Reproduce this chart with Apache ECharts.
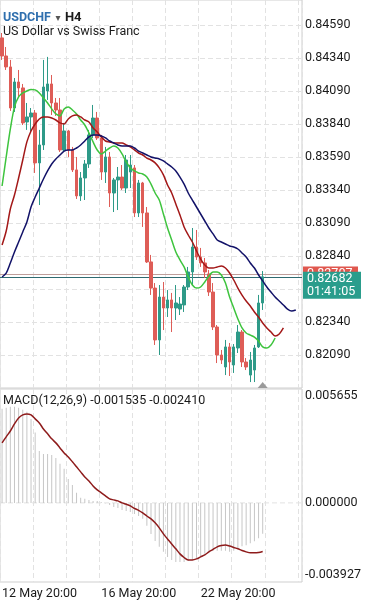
<!DOCTYPE html>
<html><head><meta charset="utf-8">
<script src="https://cdn.jsdelivr.net/npm/echarts@6/dist/echarts.min.js"></script>
<style>html,body{margin:0;padding:0;background:#fff;}#c{width:369px;height:600px;}</style>
</head><body><div id="c"></div>
<script>
const categories = [
'12 May 20:00',
'13 May 00:00','13 May 04:00','13 May 08:00','13 May 12:00','13 May 16:00','13 May 20:00',
'14 May 00:00','14 May 04:00','14 May 08:00','14 May 12:00','14 May 16:00','14 May 20:00',
'15 May 00:00','15 May 04:00','15 May 08:00','15 May 12:00','15 May 16:00','15 May 20:00',
'16 May 00:00','16 May 04:00','16 May 08:00','16 May 12:00','16 May 16:00','16 May 20:00',
'19 May 00:00','19 May 04:00','19 May 08:00','19 May 12:00','19 May 16:00','19 May 20:00',
'20 May 00:00','20 May 04:00','20 May 08:00','20 May 12:00','20 May 16:00','20 May 20:00',
'21 May 00:00','21 May 04:00','21 May 08:00','21 May 12:00','21 May 16:00','21 May 20:00',
'22 May 00:00','22 May 04:00','22 May 08:00','22 May 12:00','22 May 16:00','22 May 20:00',
'23 May 00:00','23 May 04:00','23 May 08:00','23 May 12:00','23 May 16:00','23 May 20:00',
'26 May 00:00','26 May 04:00','26 May 08:00','26 May 12:00','26 May 16:00','26 May 20:00',
'27 May 00:00','27 May 04:00','27 May 08:00','27 May 12:00','27 May 16:00','27 May 20:00',
'28 May 00:00','28 May 04:00','28 May 08:00','28 May 12:00','28 May 16:00','28 May 20:00'
];
const xLabelIndices = [0, 24, 48];
const open = [0.84492,0.84355,0.84272,0.83961,0.84158,0.84113,0.83855,0.83893,0.83923,0.83545,
0.83681,0.84090,0.84143,0.83999,0.83946,0.83643,0.83787,0.83643,0.83492,0.83295,
0.83431,0.83537,0.83757,0.83885,0.83734,0.83476,0.83590,0.83317,0.83416,0.83438,
0.83355,0.83476,0.83507,0.83166,0.83393,0.83166,0.82795,0.82597,0.82204,0.82529,
0.82446,0.82507,0.82446,0.82438,0.82469,0.82605,0.82719,0.82908,0.82832,0.82787,
0.82704,0.82567,0.82302,0.82090,0.81999,0.82151,0.82014,0.82143,0.82264,0.82037,
0.81938,0.81976,0.82151,0.82484];
const close = [0.84355,0.84272,0.83961,0.84158,0.84113,0.83848,0.83893,0.83923,0.83545,0.83681,
0.84120,0.84143,0.83999,0.83946,0.83643,0.83787,0.83643,0.83492,0.83295,0.83431,
0.83537,0.83757,0.83885,0.83734,0.83476,0.83590,0.83317,0.83416,0.83438,0.83355,
0.83567,0.83529,0.83166,0.83393,0.83166,0.82795,0.82597,0.82204,0.82529,0.82446,
0.82507,0.82446,0.82484,0.82476,0.82605,0.82719,0.82908,0.82832,0.82787,0.82719,
0.82567,0.82302,0.82090,0.82052,0.82151,0.82037,0.82151,0.82264,0.82037,0.81999,
0.82052,0.82143,0.82484,0.82682];
const low = [0.84325,0.84249,0.83939,0.83931,0.84045,0.83832,0.83795,0.83772,0.83469,0.83226,
0.83643,0.84022,0.83908,0.83901,0.83628,0.83628,0.83590,0.83476,0.83272,0.83257,
0.83264,0.83507,0.83734,0.83719,0.83416,0.83393,0.83211,0.83173,0.83188,0.83340,
0.83317,0.83355,0.83135,0.83135,0.83060,0.82787,0.82545,0.82166,0.82090,0.82279,
0.82378,0.82264,0.82355,0.82393,0.82416,0.82582,0.82620,0.82810,0.82757,0.82673,
0.82537,0.82279,0.82029,0.82022,0.81938,0.81931,0.81954,0.82105,0.81999,0.81976,
0.81885,0.81885,0.82143,0.82431];
const high = [0.84529,0.84423,0.84325,0.84188,0.84249,0.84143,0.83999,0.83961,0.83946,0.83795,
0.84325,0.84348,0.84211,0.84037,0.84037,0.83848,0.83795,0.83666,0.83590,0.83476,
0.83567,0.83795,0.83984,0.83931,0.83757,0.83666,0.83628,0.83431,0.83514,0.83529,
0.83605,0.83605,0.83529,0.83416,0.83401,0.83211,0.82848,0.82635,0.82620,0.82643,
0.82582,0.82560,0.82620,0.82529,0.82620,0.82757,0.83052,0.83037,0.82901,0.82825,
0.82734,0.82635,0.82317,0.82128,0.82204,0.82181,0.82173,0.82317,0.82279,0.82067,
0.82113,0.82166,0.82545,0.82726];
const lips = [0.83370,0.83590,0.83802,0.83969,0.84045,0.84075,0.84090,0.84101,0.84098,0.84075,
0.84037,0.83999,0.83954,0.83916,0.83901,0.83954,0.83969,0.83946,0.83916,0.83870,
0.83832,0.83772,0.83704,0.83643,0.83613,0.83635,0.83658,0.83673,0.83658,0.83613,
0.83552,0.83507,0.83484,0.83469,0.83461,0.83438,0.83385,0.83317,0.83264,0.83158,
0.83052,0.82961,0.82870,0.82810,0.82757,0.82681,0.82620,0.82597,0.82605,0.82643,
0.82688,0.82719,0.82719,0.82696,0.82635,0.82529,0.82446,0.82363,0.82295,0.82257,
0.82241,0.82226,0.82196,0.82151,0.82143,0.82166,0.82219];
const teeth = [0.82923,0.83029,0.83196,0.83302,0.83431,0.83567,0.83704,0.83787,0.83840,0.83878,
0.83893,0.83893,0.83885,0.83870,0.83848,0.83840,0.83878,0.83901,0.83908,0.83893,
0.83870,0.83855,0.83810,0.83779,0.83742,0.83711,0.83704,0.83696,0.83696,0.83696,
0.83681,0.83666,0.83643,0.83620,0.83605,0.83582,0.83567,0.83545,0.83507,0.83454,
0.83378,0.83317,0.83234,0.83151,0.83060,0.82999,0.82946,0.82878,0.82817,0.82772,
0.82749,0.82749,0.82757,0.82764,0.82749,0.82711,0.82658,0.82597,0.82544,0.82499,
0.82461,0.82416,0.82378,0.82332,0.82295,0.82264,0.82234,0.82249,0.82295];
const jaw = [0.82681,0.82711,0.82787,0.82870,0.82946,0.83022,0.83098,0.83211,0.83287,0.83355,
0.83423,0.83484,0.83537,0.83575,0.83605,0.83635,0.83643,0.83643,0.83658,0.83681,
0.83711,0.83742,0.83757,0.83757,0.83749,0.83734,0.83711,0.83696,0.83681,0.83673,
0.83673,0.83673,0.83658,0.83635,0.83620,0.83605,0.83590,0.83582,0.83575,0.83560,
0.83537,0.83514,0.83484,0.83438,0.83385,0.83317,0.83264,0.83211,0.83158,0.83105,
0.83052,0.83007,0.82961,0.82946,0.82931,0.82916,0.82908,0.82893,0.82863,0.82832,
0.82787,0.82749,0.82696,0.82651,0.82605,0.82567,0.82529,0.82499,0.82469,0.82438,
0.82423,0.82431];
const macdMain = [0.00467,0.00472,0.00477,0.00477,0.00472,0.00462,0.00452,0.00417,0.00350,0.00258,
0.00243,0.00243,0.00238,0.00223,0.00194,0.00169,0.00119,0.00089,0.00050,0.00025,
0.00020,0.00015,0.00010,0.00010,0.00003,-0.00002,-0.00010,-0.00020,-0.00025,-0.00035,
-0.00040,-0.00045,-0.00055,-0.00065,-0.00079,-0.00114,-0.00154,-0.00189,-0.00218,-0.00243,
-0.00268,-0.00283,-0.00293,-0.00293,-0.00293,-0.00288,-0.00283,-0.00273,-0.00263,-0.00253,
-0.00243,-0.00238,-0.00238,-0.00238,-0.00238,-0.00243,-0.00238,-0.00225,-0.00215,-0.00210,
-0.00200,-0.00190,-0.00175,-0.001535];
const macdSignal = [0.00298,0.00328,0.00357,0.00392,0.00422,0.00437,0.00442,0.00437,0.00417,0.00397,
0.00367,0.00343,0.00318,0.00298,0.00273,0.00248,0.00228,0.00204,0.00179,0.00154,
0.00129,0.00109,0.00084,0.00065,0.00050,0.00035,0.00020,0.00015,0.00010,0.00000,
-0.00007,-0.00015,-0.00027,-0.00037,-0.00050,-0.00065,-0.00079,-0.00099,-0.00124,-0.00154,
-0.00179,-0.00204,-0.00228,-0.00253,-0.00271,-0.00283,-0.00283,-0.00278,-0.00268,-0.00258,
-0.00243,-0.00231,-0.00218,-0.00211,-0.00209,-0.00214,-0.00221,-0.00228,-0.00236,-0.00243,
-0.00248,-0.00248,-0.00246,-0.00241];
const priceMin = 0.81840, priceMax = 0.84779, priceStep = 0.0025;
const macdMin = -0.003927, macdMax = 0.005655;
const bidPrice = 0.82682, askPrice = 0.82707, barTimer = '01:41:05';
const symbolName = 'USDCHF', timeframe = 'H4', symbolDesc = 'US Dollar vs Swiss Franc';
const macdTitle = 'MACD(12,26,9) -0.001535 -0.002410';

const FONT = 'Roboto, "DejaVu Sans", sans-serif';
const TXT = '#1a1a1a';
const GRIDC = '#e2e2e2';
const UP = '#2e9a88', DOWN = '#de5d57';
const candles = open.map((o, i) => [o, close[i], low[i], high[i]]);
const vGrid = (i) => i % 8 === 0;

const chart = echarts.init(document.getElementById('c'), null, {renderer: 'canvas', width: 369, height: 600});
const option = {
  animation: false,
  backgroundColor: '#ffffff',
  textStyle: {fontFamily: FONT},
  title: [{
    left: 3, top: 9, padding: 0,
    text: '{a|' + symbolName + '} {b|▾} {c|' + timeframe + '}',
    textStyle: {rich: {
      a: {fontSize: 12.5, fontWeight: 'bold', color: '#2f6fae', fontFamily: FONT},
      b: {fontSize: 10, color: '#555', fontFamily: FONT},
      c: {fontSize: 13, color: TXT, fontFamily: FONT}
    }}
  }, {
    left: 3, top: 25, padding: 0, text: symbolDesc,
    textStyle: {fontSize: 12.5, fontWeight: 'normal', color: TXT, fontFamily: FONT}
  }, {
    left: 3, top: 394, padding: 0, text: macdTitle,
    textStyle: {fontSize: 12.5, fontWeight: 'normal', color: TXT, fontFamily: FONT}
  }],
  grid: [
    {left: 0, top: 0, width: 302, height: 388, show: true, borderColor: '#cfcfcf', borderWidth: 1, outerBoundsMode: 'none'},
    {left: 0, top: 389, width: 302, height: 193, show: true, borderColor: '#cfcfcf', borderWidth: 1, outerBoundsMode: 'none'}
  ],
  xAxis: [{
    gridIndex: 0, type: 'category', data: categories, boundaryGap: true,
    axisLine: {show: false, onZero: false}, axisTick: {show: false}, axisLabel: {show: false},
    splitLine: {show: true, interval: vGrid, lineStyle: {color: GRIDC, type: [5, 3], width: 1}}
  }, {
    gridIndex: 1, type: 'category', data: categories, boundaryGap: true,
    axisLine: {show: false, onZero: false}, axisTick: {show: false},
    axisLabel: {show: true, interval: (i) => xLabelIndices.indexOf(i) >= 0, align: 'left', margin: 5, fontSize: 12.5, color: TXT, fontFamily: FONT},
    splitLine: {show: true, interval: vGrid, lineStyle: {color: GRIDC, type: [5, 3], width: 1}}
  }],
  yAxis: [{
    gridIndex: 0, type: 'value', position: 'right', min: priceMin, max: priceMax, interval: priceStep,
    axisLine: {show: false}, axisTick: {show: false},
    axisLabel: {showMinLabel: false, showMaxLabel: false, margin: 3, fontSize: 12.5, color: TXT, fontFamily: FONT,
      formatter: (v) => v.toFixed(5)},
    splitLine: {show: true, showMinLine: false, showMaxLine: false, lineStyle: {color: GRIDC, type: [5, 3], width: 1}}
  }, {
    gridIndex: 1, type: 'value', position: 'right', min: macdMin, max: macdMax, interval: -macdMin,
    axisLine: {show: false}, axisTick: {show: false}, splitLine: {show: false},
    axisLabel: {showMinLabel: true, showMaxLabel: true, margin: 3, fontSize: 12.5, color: TXT, fontFamily: FONT,
      formatter: (v) => {
        if (Math.abs(v - macdMax) < 1e-9) return '{t|' + macdMax.toFixed(6) + '}';
        if (Math.abs(v - macdMin) < 1e-9) return '{b|' + macdMin.toFixed(6) + '}';
        if (Math.abs(v) < 1e-9) return '0.000000';
        return '';
      },
      rich: {
        t: {padding: [14, 0, 0, 0], fontSize: 12.5, color: TXT, fontFamily: FONT},
        b: {padding: [0, 0, 14, 0], fontSize: 12.5, color: TXT, fontFamily: FONT}
      }
    }
  }],
  series: [{
    type: 'candlestick', xAxisIndex: 0, yAxisIndex: 0, data: candles, barWidth: 3,
    itemStyle: {color: UP, color0: DOWN, borderColor: UP, borderColor0: DOWN, borderWidth: 1}
  }, {
    type: 'line', xAxisIndex: 0, yAxisIndex: 0, data: lips, showSymbol: false, smooth: 0.3,
    lineStyle: {color: '#3ec43e', width: 1.5}, z: 5
  }, {
    type: 'line', xAxisIndex: 0, yAxisIndex: 0, data: teeth, showSymbol: false, smooth: 0.3,
    lineStyle: {color: '#a31818', width: 1.5}, z: 5
  }, {
    type: 'line', xAxisIndex: 0, yAxisIndex: 0, data: jaw, showSymbol: false, smooth: 0.3,
    lineStyle: {color: '#121268', width: 1.5}, z: 5
  }, {
    type: 'bar', xAxisIndex: 1, yAxisIndex: 1, data: macdMain, barWidth: 1,
    itemStyle: {color: '#c6c6c6'}
  }, {
    type: 'line', xAxisIndex: 1, yAxisIndex: 1, data: macdSignal, showSymbol: false, smooth: 0.3,
    lineStyle: {color: '#8e1b1b', width: 1.5}, z: 5
  }]
};
chart.setOption(option);

const xLast = chart.convertToPixel({xAxisIndex: 0}, open.length - 1);
const yBid = chart.convertToPixel({yAxisIndex: 0}, bidPrice);
const yAsk = chart.convertToPixel({yAxisIndex: 0}, askPrice);
const yZero = chart.convertToPixel({yAxisIndex: 1}, 0);
const gridBottom = 388, plotLeft = 0, plotRight = 302;
chart.setOption({graphic: [
  {type: 'line', z: 1, shape: {x1: plotLeft, y1: yZero, x2: plotRight, y2: yZero}, style: {stroke: GRIDC, lineWidth: 1, lineDash: [5, 3]}},
  {type: 'line', z: 2, shape: {x1: plotLeft, y1: Math.round(yAsk) + 0.5, x2: plotRight, y2: Math.round(yAsk) + 0.5}, style: {stroke: '#bf9f9b', lineWidth: 1}},
  {type: 'line', z: 2, shape: {x1: plotLeft, y1: Math.round(yBid) + 0.5, x2: plotRight, y2: Math.round(yBid) + 0.5}, style: {stroke: '#2f6a70', lineWidth: 1}},
  {type: 'rect', z: 100, shape: {x: 303, y: yAsk - 7, width: 55, height: 14}, style: {fill: '#e0574e'}},
  {type: 'text', z: 101, style: {text: askPrice.toFixed(5), x: 307, y: yAsk, verticalAlign: 'middle', fill: '#ffffff', fontSize: 12.5, fontFamily: FONT}},
  {type: 'rect', z: 102, shape: {x: 303, y: yBid - 5, width: 58, height: 27}, style: {fill: '#2a9d8c'}},
  {type: 'text', z: 103, style: {text: bidPrice.toFixed(5) + '\n' + barTimer, x: 307, y: yBid - 4, lineHeight: 13, fill: '#ffffff', fontSize: 12.5, fontFamily: FONT}},
  {type: 'polygon', z: 104, shape: {points: [[xLast - 5, gridBottom], [xLast, gridBottom - 6], [xLast + 5, gridBottom]]}, style: {fill: '#9a9a9a'}}
]});
</script>
</body></html>
